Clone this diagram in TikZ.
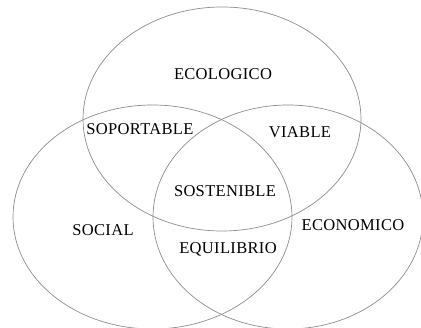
\documentclass[tikz,border=0pt]{standalone}
\usepackage{fontspec}
\setmainfont{Liberation Serif}
\begin{document}
\begin{tikzpicture}[x=1pt,y=-1pt,
  ring/.style={draw=black!45,line width=0.7pt},
  lbl/.style={font=\fontsize{16.5}{18}\selectfont\addfontfeature{LetterSpace=2},inner sep=0pt,text=black}]
  \useasboundingbox (0,0) rectangle (421,328);
  \begin{scope}
    \clip (0,0) rectangle (421,328);
    % three overlapping sets
    \draw[ring] (222,119) ellipse [x radius=139, y radius=112];
    \draw[ring] (152.5,217) ellipse [x radius=139.5, y radius=112];
    \draw[ring] (288,217) ellipse [x radius=135, y radius=112];
  \end{scope}
  % labels of the regions
  \node[lbl] (eco)  at (223,74)  {ECOLOGICO};
  \node[lbl] (sop)  at (140,129) {SOPORTABLE};
  \node[lbl] (via)  at (300,132) {VIABLE};
  \node[lbl] (sos)  at (225,191) {SOSTENIBLE};
  \node[lbl] (soc)  at (103,230) {SOCIAL};
  \node[lbl] (econ) at (353,225) {ECONOMICO};
  \node[lbl] (equ)  at (228,249) {EQUILIBRIO};
\end{tikzpicture}
\end{document}
